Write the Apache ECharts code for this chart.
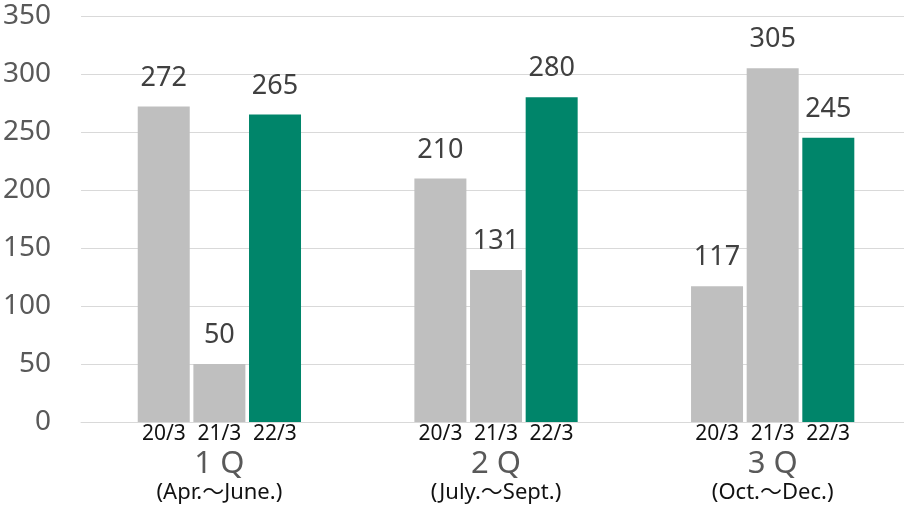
<!DOCTYPE html>
<html>
<head>
<meta charset="utf-8">
<script src="https://cdn.jsdelivr.net/npm/echarts@6/dist/echarts.min.js"></script>
<style>
html,body{margin:0;padding:0;background:#fff;overflow:hidden;}
/* a little wider than the window: the plot area runs off the right edge */
#main{width:911px;height:511px;}
</style>
</head>
<body>
<div id="main"></div>
<script>
//--- DATA
var Quarters	= ['1 Q','2 Q','3 Q'];
var Periods		= ['(Apr.～June.)','(July.～Sept.)','(Oct.～Dec.)'];
var Years		= ['20/3','21/3','22/3'];
var Val2003		= [272, 210, 117];
var Val2103		= [50, 131, 305];
var Val2203		= [265, 280, 245];
var YTicks		= [0, 50, 100, 150, 200, 250, 300, 350];

var colorList	= ['#bfbfbf','#bfbfbf','#00856a'];
var myFont		= 'Noto Sans, Noto Sans CJK JP, sans-serif';

function makeSeries(InName,InData,InColor){
	return {
		name: InName,
		type: 'bar',
		data: InData,
		barWidth: 52,
		barGap: '7%',
		itemStyle: {color: InColor},
		label: {
			show: true,
			position: 'top',
			distance: 15,
			color: '#404040',
			fontSize: 27,
			fontFamily: myFont
		}
	};
}

var myChart = echarts.init(document.getElementById('main'));

var option = {
	animation: false,
	grid: {left: 80, right: 0, top: 16, bottom: 89, containLabel: false},
	xAxis: {
		type: 'category',
		data: Quarters,
		axisLine: {show: true, lineStyle: {color: '#d9d9d9', width: 1}},
		axisTick: {show: false},
		axisLabel: {
			margin: 2,
			interval: 0,
			formatter: function(value, idx){
				return '{y|' + Years[0] + '}{y|' + Years[1] + '}{y|' + Years[2] + '}\n{q|' + value + '}\n{s|' + Periods[idx] + '}';
			},
			rich: {
				y: {width: 55.5, align: 'center', fontSize: 21, color: '#111', lineHeight: 20, fontFamily: myFont},
				q: {fontSize: 31, color: '#595959', lineHeight: 40, fontFamily: myFont},
				s: {fontSize: 22, color: '#111', lineHeight: 18, fontFamily: myFont}
			}
		}
	},
	yAxis: {
		type: 'value',
		min: YTicks[0],
		max: YTicks[YTicks.length-1],
		interval: 50,
		axisLine: {show: false},
		axisTick: {show: false},
		splitLine: {lineStyle: {color: '#d9d9d9', width: 1}},
		axisLabel: {
			margin: 30,
			color: '#595959',
			fontSize: 28,
			fontFamily: myFont
		}
	},
	series: [
		makeSeries(Years[0], Val2003, colorList[0]),
		makeSeries(Years[1], Val2103, colorList[1]),
		makeSeries(Years[2], Val2203, colorList[2])
	]
};

myChart.setOption(option);
</script>
</body>
</html>
